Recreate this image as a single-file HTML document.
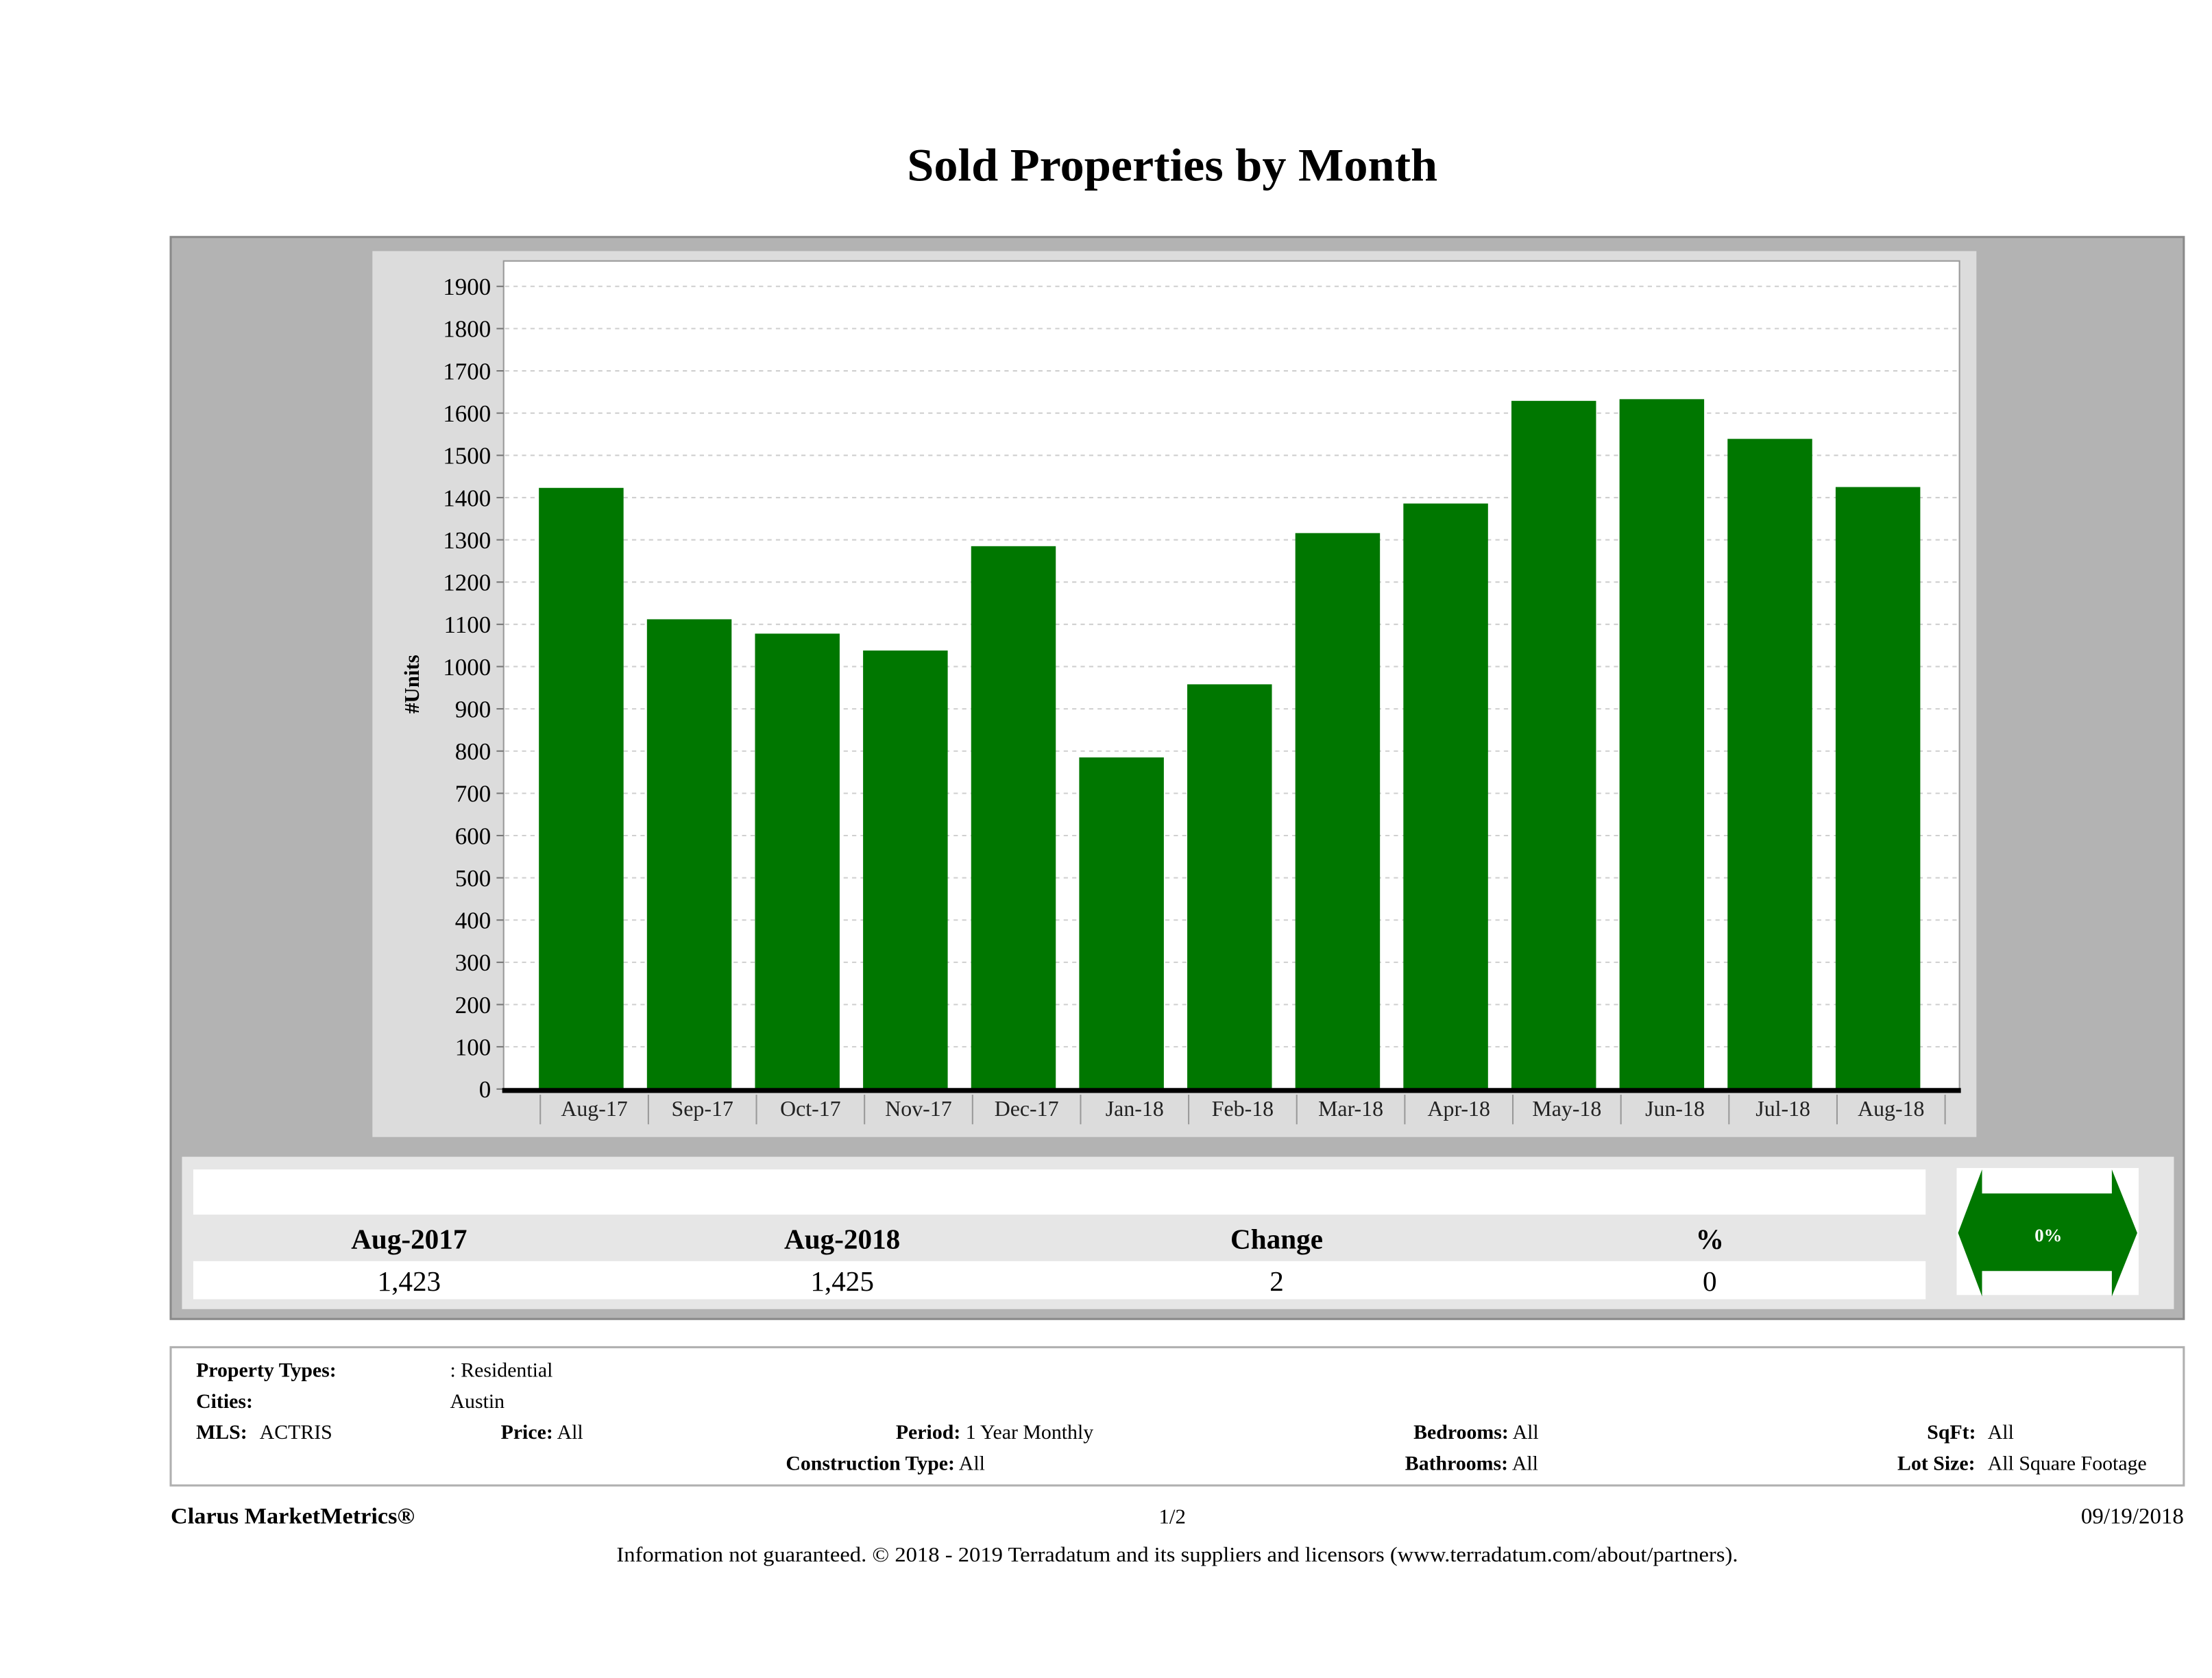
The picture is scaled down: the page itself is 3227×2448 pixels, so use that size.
<!DOCTYPE html>
<html><head><meta charset="utf-8"><style>
html,body{margin:0;padding:0;background:#fff;}
svg{display:block;font-family:"Liberation Serif",serif;}
</style></head><body>
<svg id="root" width="3227" height="2448" viewBox="0 0 1568 1189.5" preserveAspectRatio="none" xmlns="http://www.w3.org/2000/svg">
<text x="831" y="128" text-anchor="middle" font-size="33" font-weight="bold" textLength="376" lengthAdjust="spacingAndGlyphs">Sold Properties by Month</text>
<rect x="121" y="168" width="1427" height="767" fill="#b3b3b3" stroke="#8a8a8a" stroke-width="1.5"/>
<rect x="264" y="178" width="1137" height="628" fill="#dcdcdc"/>
<rect x="357" y="185" width="1032" height="587" fill="#fff" stroke="#999" stroke-width="1"/>
<g id="grid"></g>
<g id="bars"></g>
<g id="xaxis"></g>
<text transform="translate(297,485) rotate(-90)" text-anchor="middle" font-size="15" font-weight="bold">#Units</text>

<rect x="129" y="820" width="1412" height="108" fill="#e6e6e6"/>
<rect x="137" y="829" width="1228" height="32" fill="#fff"/>
<rect x="137" y="894" width="1228" height="27" fill="#fff"/>
<g font-size="20" font-weight="bold" text-anchor="middle">
<text x="290" y="885">Aug-2017</text>
<text x="597" y="885">Aug-2018</text>
<text x="905" y="885">Change</text>
<text x="1212" y="885">%</text>
</g>
<g font-size="20" text-anchor="middle">
<text x="290" y="915">1,423</text>
<text x="597" y="915">1,425</text>
<text x="905" y="915">2</text>
<text x="1212" y="915">0</text>
</g>
<rect x="1387" y="828" width="129" height="90" fill="#fff"/>
<polygon points="1405,829 1405,846 1497,846 1497,829 1515,874 1497,919 1497,901 1405,901 1405,919 1388,874" fill="#007700"/>
<text x="1452" y="880" text-anchor="middle" font-size="13" font-weight="bold" fill="#fff">0%</text>

<rect x="121" y="955" width="1427" height="98" fill="#fff" stroke="#b0b0b0" stroke-width="1.5"/>
<g font-size="14.5">
<text x="139" y="976" font-weight="bold">Property Types:</text>
<text x="319" y="976">: Residential</text>
<text x="139" y="998" font-weight="bold">Cities:</text>
<text x="319" y="998">Austin</text>
<text x="139" y="1020"><tspan font-weight="bold">MLS:</tspan><tspan x="184">ACTRIS</tspan></text>
<text x="355" y="1020"><tspan font-weight="bold">Price:</tspan> All</text>
<text x="635" y="1020"><tspan font-weight="bold">Period:</tspan> 1 Year Monthly</text>
<text x="1002" y="1020"><tspan font-weight="bold">Bedrooms:</tspan> All</text>
<text x="1366" y="1020"><tspan font-weight="bold">SqFt:</tspan><tspan x="1409">All</tspan></text>
<text x="557" y="1042"><tspan font-weight="bold">Construction Type:</tspan> All</text>
<text x="996" y="1042"><tspan font-weight="bold">Bathrooms:</tspan> All</text>
<text x="1345" y="1042"><tspan font-weight="bold">Lot Size:</tspan><tspan x="1409">All Square Footage</tspan></text>
</g>
<text x="121" y="1080" font-size="16" font-weight="bold" textLength="173" lengthAdjust="spacingAndGlyphs">Clarus MarketMetrics®</text>
<text x="831" y="1080" font-size="15" text-anchor="middle">1/2</text>
<text x="1548" y="1080" font-size="16" text-anchor="end">09/19/2018</text>
<text x="834.5" y="1107" font-size="15" text-anchor="middle" textLength="795" lengthAdjust="spacingAndGlyphs">Information not guaranteed. © 2018 - 2019 Terradatum and its suppliers and licensors (www.terradatum.com/about/partners).</text>
</svg>
<script>
const categories = ["Aug-17","Sep-17","Oct-17","Nov-17","Dec-17","Jan-18","Feb-18","Mar-18","Apr-18","May-18","Jun-18","Jul-18","Aug-18"];
const soldUnits = [1423,1112,1078,1038,1285,785,958,1316,1386,1629,1633,1539,1425];
const yTicks = [0,100,200,300,400,500,600,700,800,900,1000,1100,1200,1300,1400,1500,1600,1700,1800,1900];
const NS = "http://www.w3.org/2000/svg";
const y0 = 772, pxPerUnit = (772 - 203) / 1900;
const xStart = 383, slot = 76.6, barW = 60;
function yScale(v){ return y0 - v * pxPerUnit; }
function xSlot(i){ return xStart + i * slot; }
function mk(tag, attrs, parent){ const e = document.createElementNS(NS, tag); for (const k in attrs) e.setAttribute(k, attrs[k]); parent.appendChild(e); return e; }
const grid = document.getElementById('grid'), bars = document.getElementById('bars'), xaxis = document.getElementById('xaxis');
yTicks.forEach(t => {
  const y = yScale(t);
  if (t > 0) {
    const gl = mk('line', {x1:358, x2:1388, y1:y, y2:y, stroke:'#cfcfcf', 'stroke-dasharray':'3,3', 'stroke-width':1}, grid);
    
    
  }
  const tk = mk('line', {x1:352, x2:357, y1:y, y2:y, stroke:'#777', 'stroke-width':1}, grid);
  
  
  const lb = mk('text', {x:348, y:y + 6, 'text-anchor':'end', 'font-size':17}, grid);
  lb.textContent = t;
  
  
});
categories.forEach((c, i) => {
  const v = soldUnits[i];
  const b = mk('rect', {x:xSlot(i) - 1, y:yScale(v), width:barW, height:y0 - yScale(v), fill:'#007700'}, bars);
  
  
  const lb = mk('text', {x:xSlot(i) + slot / 2, y:791, 'text-anchor':'middle', 'font-size':15.5, fill:'#222'}, xaxis);
  lb.textContent = c;
  
  
});
for (let i = 0; i <= categories.length; i++) {
  const s = mk('line', {x1:xSlot(i), x2:xSlot(i), y1:776, y2:797, stroke:'#999', 'stroke-width':1}, xaxis);
  
  
}
const ax = mk('line', {x1:356, x2:1390, y1:y0 + 1, y2:y0 + 1, stroke:'#000', 'stroke-width':3.5}, xaxis);


</script>
</body></html>
